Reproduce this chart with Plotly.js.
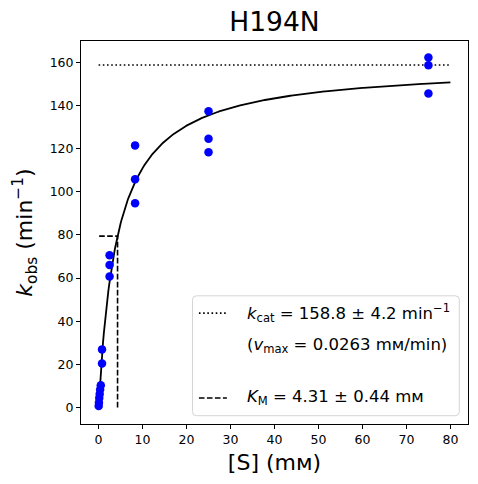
<!DOCTYPE html>
<html>
<head>
<meta charset="utf-8">
<script src="https://cdn.plot.ly/plotly-3.0.1.min.js"></script>
<style>html,body{margin:0;padding:0;background:#fff;}#chart{width:478px;height:484px;}</style>
</head>
<body>
<div id="chart"></div>
<script>
const substrate = [0.02, 0.08, 0.15, 0.25, 0.35, 0.5, 0.78, 0.78, 2.5, 2.5, 2.5, 8.3, 8.3, 8.3, 25, 25, 25, 75, 75, 75];
const kobs = [0.6, 2.3, 4.3, 6.2, 8.3, 10.3, 20.4, 26.9, 60.7, 66.0, 70.6, 94.7, 105.8, 121.5, 118.3, 124.6, 137.3, 145.6, 158.7, 162.3];

// Fit parameters (from the legend)
const KCAT = 158.8;
const KCAT_ERR = 4.2;
const VMAX = 0.0263;
const KM = 4.31;
const KM_ERR = 0.44;
const S_MAX = 80;

const xTicks = [0, 10, 20, 30, 40, 50, 60, 70, 80];
const yTicks = [0, 20, 40, 60, 80, 100, 120, 140, 160];

// Fitted Michaelis-Menten curve from the fit parameters
const fitX = [], fitY = [];
for (let i = 0; i <= 400; i++) {
  const s = S_MAX * i / 400;
  fitX.push(s);
  fitY.push(KCAT * s / (KM + s));
}

const font = 'DejaVu Sans, sans-serif';
const MM = 'm\u1D0D';

const traces = [
  { x: [0, S_MAX], y: [KCAT, KCAT], mode: 'lines', line: { color: 'black', width: 1.6, dash: '1.6px,2.6px' }, hoverinfo: 'skip' },
  { x: [KM, KM, 0], y: [0, KCAT / 2, KCAT / 2], mode: 'lines', line: { color: 'black', width: 1.6, dash: '5.6px,2.4px' }, hoverinfo: 'skip' },
  { x: fitX, y: fitY, mode: 'lines', line: { color: 'black', width: 1.8 }, hoverinfo: 'skip' },
  { x: substrate, y: kobs, mode: 'markers', marker: { color: '#0000ff', size: 8.5 }, hoverinfo: 'skip' }
];

// Legend geometry (paper coordinates)
const bx0 = 0.288, bx1 = 0.9775, by0 = 0.0217, by1 = 0.3347;
const rx = 4 / 387, ry = 4 / 383;
const boxPath = `M ${bx0 + rx} ${by0} L ${bx1 - rx} ${by0} Q ${bx1} ${by0} ${bx1} ${by0 + ry} L ${bx1} ${by1 - ry} Q ${bx1} ${by1} ${bx1 - rx} ${by1} L ${bx0 + rx} ${by1} Q ${bx0} ${by1} ${bx0} ${by1 - ry} L ${bx0} ${by0 + ry} Q ${bx0} ${by0} ${bx0 + rx} ${by0} Z`;

const sx0 = 0.3047, sx1 = 0.377, tx = 0.4233;
const row1 = 0.2895, row2 = 0.2052, row3 = 0.068;

const shapes = [
  { type: 'path', xref: 'paper', yref: 'paper', path: boxPath, line: { color: '#d4d4d4', width: 1 }, fillcolor: 'rgba(255,255,255,0.8)', layer: 'above' },
  { type: 'line', xref: 'paper', yref: 'paper', x0: sx0, x1: sx1, y0: row1, y1: row1, line: { color: 'black', width: 1.6, dash: '1.6px,2.6px' }, layer: 'above' },
  { type: 'line', xref: 'paper', yref: 'paper', x0: sx0, x1: sx1, y0: row3, y1: row3, line: { color: 'black', width: 1.6, dash: '5.6px,2.4px' }, layer: 'above' }
];

const legFont = { family: font, size: 16.5, color: 'black' };
const annotations = [
  { xref: 'paper', yref: 'paper', x: tx, y: row1, xanchor: 'left', yanchor: 'middle', showarrow: false, font: legFont,
    text: `<i>k</i><sub>cat</sub> = ${KCAT.toFixed(1)} \u00B1 ${KCAT_ERR.toFixed(1)} min<sup>\u22121</sup>` },
  { xref: 'paper', yref: 'paper', x: tx, y: row2, xanchor: 'left', yanchor: 'middle', showarrow: false, font: legFont,
    text: `(<i>v</i><sub>max</sub> = ${VMAX} ${MM}/min)` },
  { xref: 'paper', yref: 'paper', x: tx, y: row3, xanchor: 'left', yanchor: 'middle', showarrow: false, font: legFont,
    text: `<i>K</i><sub>M</sub> = ${KM.toFixed(2)} \u00B1 ${KM_ERR.toFixed(2)} ${MM}` }
];

const layout = {
  width: 478, height: 484,
  margin: { l: 81, r: 10, t: 41, b: 60 },
  paper_bgcolor: 'white', plot_bgcolor: 'white',
  showlegend: false,
  font: { family: font, color: 'black' },
  title: { text: 'H194N', font: { family: font, size: 26.5, color: 'black' }, x: 0.5, xref: 'paper', y: 0.955, yanchor: 'middle' },
  xaxis: {
    range: [-4, 84], tickvals: xTicks, ticktext: xTicks.map(String),
    showgrid: false, zeroline: false, showline: true, mirror: true, linecolor: 'black', linewidth: 1,
    ticks: 'outside', ticklen: 4, tickwidth: 1, tickcolor: 'black',
    tickfont: { family: font, size: 12.5, color: 'black' },
    title: { text: `[S] (${MM})`, font: { family: font, size: 22, color: 'black' }, standoff: 8 }
  },
  yaxis: {
    range: [-7.7, 169.9], tickvals: yTicks, ticktext: yTicks.map(String),
    showgrid: false, zeroline: false, showline: true, mirror: true, linecolor: 'black', linewidth: 1,
    ticks: 'outside', ticklen: 4, tickwidth: 1, tickcolor: 'black',
    tickfont: { family: font, size: 12.5, color: 'black' },
    title: { text: '<i>k</i><sub>obs</sub> (min<sup>\u22121</sup>)', font: { family: font, size: 22, color: 'black' }, standoff: 10 }
  },
  shapes: shapes,
  annotations: annotations
};

Plotly.newPlot('chart', traces, layout, { staticPlot: true, displayModeBar: false });
</script>
</body>
</html>
